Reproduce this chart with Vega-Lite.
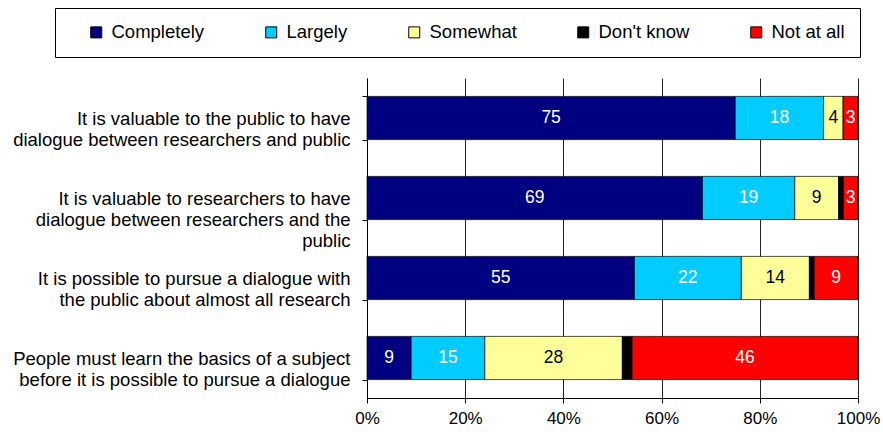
{
  "$schema": "https://vega.github.io/schema/vega-lite/v6.json",
  "width": 491,
  "height": 320,
  "autosize": {"type": "none"},
  "padding": {"left": 367, "top": 78, "right": 25, "bottom": 34},
  "background": "white",
  "config": {
    "font": "Liberation Sans",
    "view": {"stroke": null}
  },
  "data": {
    "values": [
      {"q": "It is valuable to the public to have|dialogue between researchers and public", "cat": "Completely", "v": 75, "o": 1},
      {"q": "It is valuable to the public to have|dialogue between researchers and public", "cat": "Largely", "v": 18, "o": 2},
      {"q": "It is valuable to the public to have|dialogue between researchers and public", "cat": "Somewhat", "v": 4, "o": 3},
      {"q": "It is valuable to the public to have|dialogue between researchers and public", "cat": "Don't know", "v": 0, "o": 4},
      {"q": "It is valuable to the public to have|dialogue between researchers and public", "cat": "Not at all", "v": 3, "o": 5},
      {"q": "It is valuable to researchers to have|dialogue between researchers and the|public", "cat": "Completely", "v": 69, "o": 1},
      {"q": "It is valuable to researchers to have|dialogue between researchers and the|public", "cat": "Largely", "v": 19, "o": 2},
      {"q": "It is valuable to researchers to have|dialogue between researchers and the|public", "cat": "Somewhat", "v": 9, "o": 3},
      {"q": "It is valuable to researchers to have|dialogue between researchers and the|public", "cat": "Don't know", "v": 1, "o": 4},
      {"q": "It is valuable to researchers to have|dialogue between researchers and the|public", "cat": "Not at all", "v": 3, "o": 5},
      {"q": "It is possible to pursue a dialogue with|the public about almost all research", "cat": "Completely", "v": 55, "o": 1},
      {"q": "It is possible to pursue a dialogue with|the public about almost all research", "cat": "Largely", "v": 22, "o": 2},
      {"q": "It is possible to pursue a dialogue with|the public about almost all research", "cat": "Somewhat", "v": 14, "o": 3},
      {"q": "It is possible to pursue a dialogue with|the public about almost all research", "cat": "Don't know", "v": 1, "o": 4},
      {"q": "It is possible to pursue a dialogue with|the public about almost all research", "cat": "Not at all", "v": 9, "o": 5},
      {"q": "People must learn the basics of a subject|before it is possible to pursue a dialogue", "cat": "Completely", "v": 9, "o": 1},
      {"q": "People must learn the basics of a subject|before it is possible to pursue a dialogue", "cat": "Largely", "v": 15, "o": 2},
      {"q": "People must learn the basics of a subject|before it is possible to pursue a dialogue", "cat": "Somewhat", "v": 28, "o": 3},
      {"q": "People must learn the basics of a subject|before it is possible to pursue a dialogue", "cat": "Don't know", "v": 2, "o": 4},
      {"q": "People must learn the basics of a subject|before it is possible to pursue a dialogue", "cat": "Not at all", "v": 46, "o": 5}
    ]
  },
  "encoding": {
    "y": {
      "field": "q",
      "type": "nominal",
      "sort": null,
      "scale": {"paddingInner": 0.46, "paddingOuter": 0.23},
      "axis": {
        "title": null,
        "labelExpr": "split(datum.label, '|')",
        "labelFontSize": 18.5,
        "labelLineHeight": 21,
        "labelColor": "#000",
        "labelLimit": 400,
        "labelPadding": 12,
        "tickBand": "extent",
        "tickSize": 5,
        "tickColor": "#000",
        "domainColor": "#000",
        "grid": false
      }
    },
    "order": {"field": "o", "type": "quantitative"}
  },
  "layer": [
    {
      "mark": {"type": "bar", "stroke": "#000", "strokeWidth": 0.7},
      "encoding": {
        "x": {
          "field": "v",
          "type": "quantitative",
          "stack": "normalize",
          "scale": {"domain": [0, 1], "nice": false},
          "axis": {
            "title": null,
            "format": ".0%",
            "values": [0, 0.2, 0.4, 0.6, 0.8, 1],
            "labelFontSize": 17,
            "labelColor": "#000",
            "labelPadding": 7,
            "labelFlush": false,
            "tickSize": 5,
            "tickColor": "#000",
            "domainColor": "#000",
            "grid": true,
            "gridColor": "#222",
            "gridWidth": 1
          }
        },
        "color": {
          "field": "cat",
          "type": "nominal",
          "scale": {
            "domain": ["Completely", "Largely", "Somewhat", "Don't know", "Not at all"],
            "range": ["#000080", "#00CCFF", "#FFFF99", "#000000", "#FF0000"]
          },
          "legend": {
            "title": null,
            "orient": "none",
            "legendX": -312,
            "legendY": -70,
            "direction": "horizontal",
            "columns": 5,
            "columnPadding": 40,
            "padding": 15,
            "strokeColor": "#000",
            "symbolType": "square",
            "symbolSize": 121,
            "symbolOffset": 17,
            "symbolStrokeColor": "#000",
            "symbolStrokeWidth": 1,
            "labelFontSize": 18.5,
            "labelColor": "#000",
            "labelOffset": 6,
            "labelLimit": 200
          }
        }
      }
    },
    {
      "mark": {"type": "text", "fontSize": 17.5, "align": "center", "baseline": "middle"},
      "encoding": {
        "x": {"field": "v", "type": "quantitative", "stack": "normalize", "bandPosition": 0.5},
        "detail": {"field": "cat", "type": "nominal"},
        "text": {"condition": {"test": "datum.o == 4", "value": ""}, "field": "v", "type": "quantitative"},
        "color": {
          "condition": {"test": "datum.o == 3", "value": "#000"},
          "value": "#fff"
        }
      }
    }
  ]
}
